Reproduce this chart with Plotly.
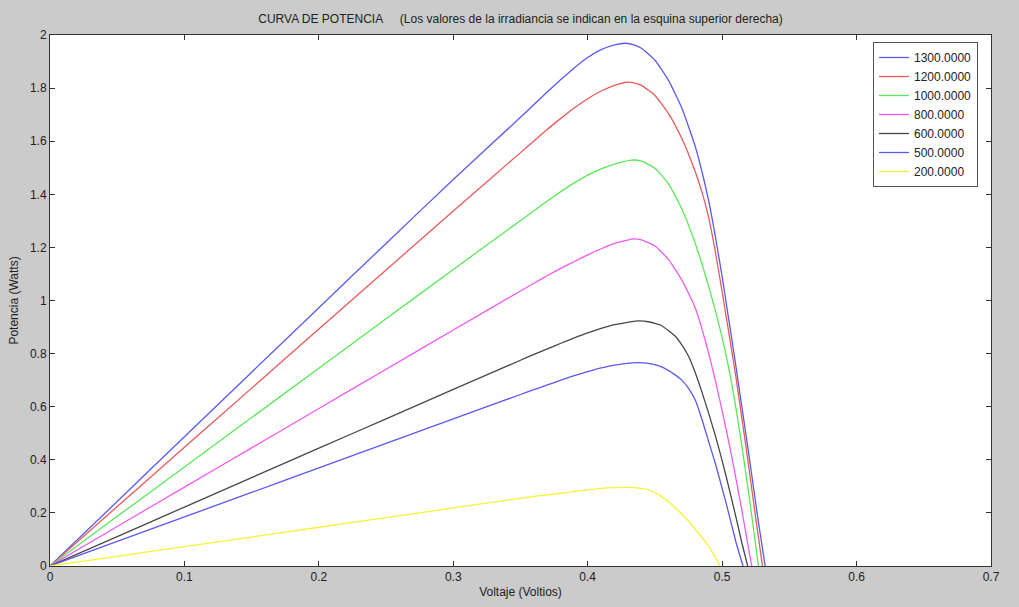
import plotly.graph_objects as go

# Irradiance labels (legend)
irradiance = ["1300.0000", "1200.0000", "1000.0000", "800.0000", "600.0000", "500.0000", "200.0000"]

# Voltage / power readings for each curve
v_1300 = [0, 0.05, 0.10, 0.15, 0.20, 0.25, 0.30, 0.35, 0.36, 0.37, 0.38, 0.39, 0.40, 0.41, 0.42, 0.428, 0.435, 0.44, 0.45, 0.46, 0.47, 0.48, 0.485, 0.49, 0.495, 0.50, 0.51, 0.52, 0.527, 0.532]
p_1300 = [0, 0.243, 0.487, 0.730, 0.973, 1.215, 1.456, 1.690, 1.738, 1.786, 1.832, 1.876, 1.915, 1.945, 1.963, 1.969, 1.962, 1.950, 1.905, 1.830, 1.725, 1.580, 1.485, 1.375, 1.240, 1.090, 0.760, 0.415, 0.165, 0]

v_1200 = [0, 0.05, 0.10, 0.15, 0.20, 0.25, 0.30, 0.35, 0.36, 0.37, 0.38, 0.39, 0.40, 0.41, 0.42, 0.429, 0.435, 0.44, 0.45, 0.46, 0.47, 0.48, 0.485, 0.49, 0.495, 0.50, 0.51, 0.518, 0.525, 0.530]
p_1200 = [0, 0.224, 0.447, 0.670, 0.893, 1.115, 1.337, 1.557, 1.601, 1.645, 1.686, 1.725, 1.760, 1.789, 1.810, 1.822, 1.819, 1.810, 1.772, 1.705, 1.610, 1.485, 1.408, 1.312, 1.182, 1.032, 0.720, 0.440, 0.180, 0]

v_1000 = [0, 0.05, 0.10, 0.15, 0.20, 0.25, 0.30, 0.35, 0.36, 0.37, 0.38, 0.39, 0.40, 0.41, 0.42, 0.433, 0.44, 0.45, 0.46, 0.47, 0.48, 0.49, 0.50, 0.507, 0.514, 0.520, 0.524, 0.527]
p_1000 = [0, 0.187, 0.373, 0.559, 0.745, 0.931, 1.117, 1.301, 1.338, 1.375, 1.410, 1.443, 1.472, 1.496, 1.514, 1.529, 1.525, 1.498, 1.440, 1.345, 1.215, 1.052, 0.860, 0.690, 0.475, 0.265, 0.115, 0]

v_800 = [0, 0.05, 0.10, 0.15, 0.20, 0.25, 0.30, 0.35, 0.36, 0.37, 0.38, 0.39, 0.40, 0.41, 0.42, 0.434, 0.44, 0.45, 0.46, 0.47, 0.48, 0.49, 0.50, 0.508, 0.515, 0.519, 0.522]
p_800 = [0, 0.149, 0.297, 0.445, 0.593, 0.741, 0.889, 1.036, 1.065, 1.094, 1.121, 1.147, 1.172, 1.195, 1.215, 1.232, 1.228, 1.205, 1.155, 1.077, 0.972, 0.800, 0.585, 0.390, 0.200, 0.085, 0]

v_600 = [0, 0.05, 0.10, 0.15, 0.20, 0.25, 0.30, 0.35, 0.36, 0.37, 0.38, 0.39, 0.40, 0.41, 0.42, 0.437, 0.445, 0.455, 0.465, 0.47, 0.475, 0.48, 0.485, 0.495, 0.503, 0.510, 0.515, 0.519]
p_600 = [0, 0.111, 0.222, 0.333, 0.444, 0.554, 0.665, 0.775, 0.797, 0.818, 0.839, 0.859, 0.878, 0.895, 0.909, 0.923, 0.920, 0.905, 0.866, 0.833, 0.790, 0.728, 0.655, 0.490, 0.337, 0.190, 0.080, 0]

v_500 = [0, 0.05, 0.10, 0.15, 0.20, 0.25, 0.30, 0.35, 0.36, 0.37, 0.38, 0.39, 0.40, 0.41, 0.42, 0.437, 0.445, 0.455, 0.465, 0.47, 0.475, 0.48, 0.485, 0.49, 0.495, 0.503, 0.510, 0.5155]
p_500 = [0, 0.0925, 0.185, 0.277, 0.370, 0.462, 0.554, 0.646, 0.664, 0.682, 0.700, 0.717, 0.732, 0.746, 0.757, 0.766, 0.763, 0.750, 0.720, 0.700, 0.669, 0.625, 0.552, 0.468, 0.385, 0.236, 0.095, 0]

v_200 = [0, 0.05, 0.10, 0.15, 0.20, 0.25, 0.30, 0.35, 0.36, 0.37, 0.38, 0.39, 0.40, 0.41, 0.42, 0.429, 0.437, 0.445, 0.453, 0.461, 0.468, 0.474, 0.480, 0.4865, 0.492, 0.4965, 0.498]
p_200 = [0, 0.0365, 0.073, 0.109, 0.146, 0.182, 0.219, 0.255, 0.262, 0.268, 0.274, 0.281, 0.287, 0.292, 0.295, 0.296, 0.294, 0.287, 0.268, 0.238, 0.205, 0.174, 0.138, 0.098, 0.058, 0.018, 0]

volts = [v_1300, v_1200, v_1000, v_800, v_600, v_500, v_200]
powers = [p_1300, p_1200, p_1000, p_800, p_600, p_500, p_200]
colors = ["#5a5af0", "#e85a5a", "#5ae85a", "#f05af0", "#484848", "#5a5af0", "#f5f535"]

x_ticks = [0, 0.1, 0.2, 0.3, 0.4, 0.5, 0.6, 0.7]
x_ticklabels = ["0", "0.1", "0.2", "0.3", "0.4", "0.5", "0.6", "0.7"]
y_ticks = [0, 0.2, 0.4, 0.6, 0.8, 1.0, 1.2, 1.4, 1.6, 1.8, 2.0]
y_ticklabels = ["0", "0.2", "0.4", "0.6", "0.8", "1", "1.2", "1.4", "1.6", "1.8", "2"]

fig = go.Figure()
for name, v, p, c in zip(irradiance, volts, powers, colors):
    fig.add_trace(go.Scatter(x=v, y=p, mode="lines", name=name,
                             line=dict(color=c, width=1.3, shape="spline", smoothing=0.5)))

font = "Liberation Sans, Arial, sans-serif"
sp = "\u00a0"
fig.update_layout(
    width=1019, height=607,
    paper_bgcolor="#cbcbcb", plot_bgcolor="white",
    margin=dict(l=50, r=28, t=35, b=41, autoexpand=False),
    font=dict(family=font, size=12, color="#222222"),
    title=dict(text="CURVA DE POTENCIA" + sp * 5 + "(Los valores de la irradiancia se indican en la esquina superior derecha)",
               x=0.5, xref="paper", y=1 - 19 / 607, yanchor="middle",
               font=dict(family=font, size=12, color="#222222")),
    showlegend=True,
    legend=dict(x=(873 - 50) / 941, y=(566 - 42) / 531, xanchor="left", yanchor="top",
                bgcolor="white", bordercolor="#555555", borderwidth=1,
                font=dict(family=font, size=12, color="#222222"),
                tracegroupgap=0, itemwidth=30),
    xaxis=dict(range=[0, 0.7], tickvals=x_ticks, ticktext=x_ticklabels, automargin=False,
               showgrid=False, zeroline=False, showline=True, linecolor="#333333", linewidth=1,
               mirror="ticks", ticks="inside", ticklen=5, tickcolor="#333333",
               title=dict(text="Voltaje (Voltios)", standoff=4, font=dict(size=12))),
    yaxis=dict(range=[0, 2], tickvals=y_ticks, ticktext=y_ticklabels, automargin=False,
               showgrid=False, zeroline=False, showline=True, linecolor="#333333", linewidth=1,
               mirror="ticks", ticks="inside", ticklen=5, tickcolor="#333333",
               title=dict(text="Potencia (Watts)", standoff=8, font=dict(size=12))),
)

fig.write_html("out.html",
               config={"displayModeBar": False},
               post_script="document.documentElement.style.margin='0';document.body.style.margin='0';"
                           "document.body.style.overflow='hidden';document.body.style.background='#cbcbcb';")
